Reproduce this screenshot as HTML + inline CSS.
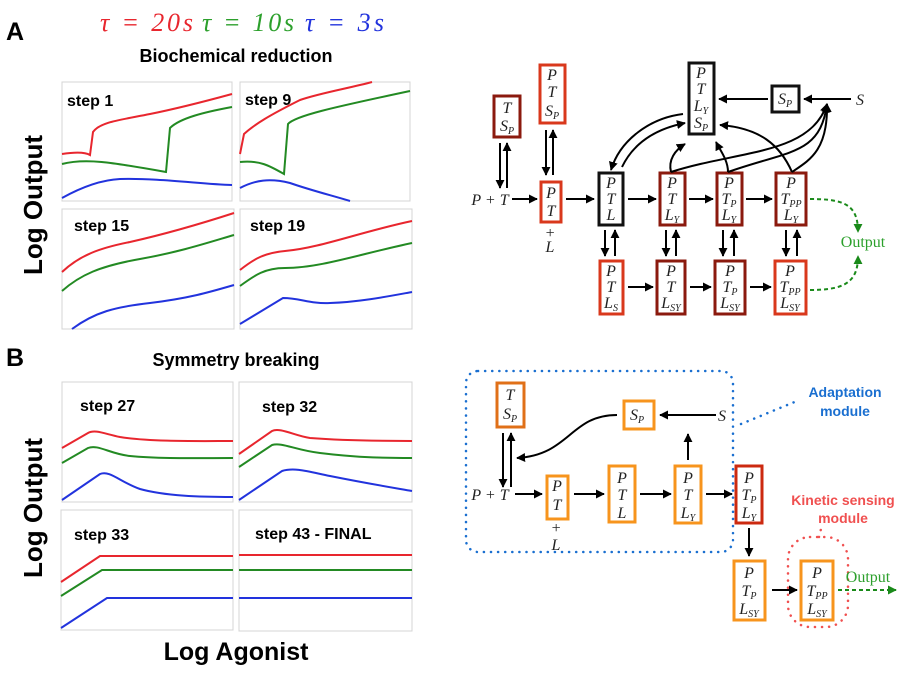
<!DOCTYPE html>
<html><head><meta charset="utf-8"><style>
html,body{margin:0;padding:0;background:#fff;}
svg{display:block;}
.m{font-family:"Liberation Serif",serif;font-style:italic;font-size:16px;fill:#222;}
.s{font-size:10px;}
.st{font-family:"Liberation Sans",sans-serif;font-weight:bold;font-size:16px;fill:#000;}
.ax{stroke:#d4d4d4;stroke-width:1;fill:none;}
.c{fill:none;stroke-width:2;}
.ar{stroke:#000;stroke-width:2;fill:none;marker-end:url(#ah);}
</style></head><body>
<svg width="900" height="675" viewBox="0 0 900 675" xmlns="http://www.w3.org/2000/svg">
<defs>
<marker id="ah" viewBox="0 0 10 10" refX="9" refY="5" markerWidth="4.5" markerHeight="4.5" orient="auto"><path d="M0,0 L10,5 L0,10 z" fill="#000"/></marker>
<marker id="gh" viewBox="0 0 10 10" refX="9" refY="5" markerWidth="4.5" markerHeight="4.5" orient="auto"><path d="M0,0 L10,5 L0,10 z" fill="#1a8a1a"/></marker>
</defs>

<text x="6" y="40" font-family="Liberation Sans" font-weight="bold" font-size="25">A</text>
<text x="6" y="366" font-family="Liberation Sans" font-weight="bold" font-size="25">B</text>
<text y="31" font-family="Liberation Serif" font-style="italic" font-size="26"><tspan x="100" fill="#e8262e" textLength="93">τ = 20s</tspan><tspan x="202" fill="#2ca02c" textLength="92">τ = 10s</tspan><tspan x="305" fill="#2233dd" textLength="79">τ = 3s</tspan></text>
<text x="236" y="62" text-anchor="middle" font-family="Liberation Sans" font-weight="bold" font-size="18">Biochemical reduction</text>
<text x="236" y="366" text-anchor="middle" font-family="Liberation Sans" font-weight="bold" font-size="18">Symmetry breaking</text>
<text x="236" y="660" text-anchor="middle" font-family="Liberation Sans" font-weight="bold" font-size="25">Log Agonist</text>
<text transform="translate(42,205) rotate(-90)" text-anchor="middle" font-family="Liberation Sans" font-weight="bold" font-size="26">Log Output</text>
<text transform="translate(42,508) rotate(-90)" text-anchor="middle" font-family="Liberation Sans" font-weight="bold" font-size="26">Log Output</text>

<rect class="ax" x="62" y="82" width="170" height="119"/>
<rect class="ax" x="240" y="82" width="170" height="119"/>
<rect class="ax" x="62" y="209" width="172" height="120"/>
<rect class="ax" x="240" y="209" width="172" height="120"/>
<rect class="ax" x="62" y="382" width="171" height="120"/>
<rect class="ax" x="239" y="382" width="173" height="120"/>
<rect class="ax" x="61" y="510" width="172" height="120"/>
<rect class="ax" x="239" y="510" width="173" height="121"/>

<text class="st" x="67" y="106">step 1</text>
<text class="st" x="245" y="105">step 9</text>
<text class="st" x="74" y="231">step 15</text>
<text class="st" x="250" y="231">step 19</text>
<text class="st" x="80" y="411">step 27</text>
<text class="st" x="262" y="412">step 32</text>
<text class="st" x="74" y="540">step 33</text>
<text class="st" x="255" y="539">step 43 - FINAL</text>

<g class="c">
<path stroke="#e8262e" d="M62,154 C75,152 85,152 90,155 L93,132 C100,122 120,120 150,114 C180,108 210,100 232,94"/>
<path stroke="#238a23" d="M62,164 C85,158 110,162 166,172 L170,128 C180,118 205,112 232,107"/>
<path stroke="#2233dd" d="M62,198 C80,188 100,180 120,179 C160,178 200,184 232,185"/>
<path stroke="#e8262e" d="M240,154 L244,134 C255,124 270,115 300,100 C320,93 350,88 372,82"/>
<path stroke="#238a23" d="M240,162 C260,160 270,166 284,174 L288,124 C295,116 330,108 410,91"/>
<path stroke="#2233dd" d="M240,188 C255,180 270,178 290,183 C310,190 330,195 350,201"/>
<path stroke="#e8262e" d="M62,272 C80,255 100,248 130,242 C170,233 200,224 234,213"/>
<path stroke="#238a23" d="M62,291 C80,275 100,266 140,259 C180,252 210,242 234,235"/>
<path stroke="#2233dd" d="M72,329 C95,312 115,307 150,303 C190,298 210,292 234,285"/>
<path stroke="#e8262e" d="M240,270 C255,258 265,253 285,251 C320,248 360,232 412,221"/>
<path stroke="#238a23" d="M240,286 C255,275 265,268 285,268 C320,268 360,254 412,243"/>
<path stroke="#2233dd" d="M240,324 L283,298 C300,298 310,304 330,303 C360,302 390,296 412,292"/>
<path stroke="#e8262e" d="M62,448 L88,433 C95,429 105,434 120,437 C150,442 200,441 233,441"/>
<path stroke="#238a23" d="M62,463 L88,448 C98,444 110,454 130,456 C160,459 200,458 233,458"/>
<path stroke="#2233dd" d="M62,500 L100,474 C110,470 120,482 140,489 C165,496 200,497 233,497"/>
<path stroke="#e8262e" d="M239,454 L272,431 C280,427 295,436 310,438 C350,441 390,441 412,441"/>
<path stroke="#238a23" d="M239,467 L272,445 C282,442 295,450 320,453 C360,458 390,458 412,458"/>
<path stroke="#2233dd" d="M239,500 L282,471 C295,467 310,472 330,476 C370,484 395,488 412,491"/>
<path stroke="#e8262e" d="M61,582 L100,556 L233,556"/>
<path stroke="#238a23" d="M61,596 L102,570 L233,570"/>
<path stroke="#2233dd" d="M61,628 L107,598 L233,598"/>
<path stroke="#e8262e" d="M239,555 L412,555"/>
<path stroke="#238a23" d="M239,570 L412,570"/>
<path stroke="#2233dd" d="M239,598 L412,598"/>
</g>

<g fill="#fff" stroke-width="3">
<rect x="494" y="96" width="26" height="41" stroke="#8b1a0e"/>
<rect x="540" y="65" width="25" height="58" stroke="#d9381c"/>
<rect x="689" y="63" width="25" height="71" stroke="#111"/>
<rect x="772" y="86" width="27" height="26" stroke="#111"/>
<rect x="541" y="182" width="20" height="40" stroke="#d9381c"/>
<rect x="599" y="173" width="24" height="52" stroke="#111"/>
<rect x="660" y="173" width="25" height="52" stroke="#8b1a0e"/>
<rect x="717" y="173" width="25" height="52" stroke="#8b1a0e"/>
<rect x="776" y="173" width="30" height="52" stroke="#8b1a0e"/>
<rect x="600" y="261" width="23" height="53" stroke="#d9381c"/>
<rect x="657" y="261" width="28" height="53" stroke="#8b1a0e"/>
<rect x="715" y="261" width="30" height="53" stroke="#8b1a0e"/>
<rect x="775" y="261" width="31" height="53" stroke="#d9381c"/>
</g>
<g class="m" text-anchor="middle">
<text x="507" y="113">T</text><text x="507" y="131">S<tspan class="s" dy="3">P</tspan></text>
<text x="552" y="80">P</text><text x="552" y="97">T</text><text x="552" y="116">S<tspan class="s" dy="3">P</tspan></text>
<text x="701" y="78">P</text><text x="701" y="94">T</text><text x="701" y="111">L<tspan class="s" dy="3">Y</tspan></text><text x="701" y="128">S<tspan class="s" dy="3">P</tspan></text>
<text x="785" y="104">S<tspan class="s" dy="3">P</tspan></text>
<text x="860" y="105">S</text>
<text x="490" y="205">P + T</text>
<text x="551" y="198">P</text><text x="551" y="216">T</text>
<text x="550" y="238">+</text><text x="550" y="252">L</text>
<text x="611" y="188">P</text><text x="611" y="204">T</text><text x="611" y="220">L</text>
<text x="672" y="188">P</text><text x="672" y="204">T</text><text x="672" y="220">L<tspan class="s" dy="3">Y</tspan></text>
<text x="729" y="188">P</text><text x="729" y="204">T<tspan class="s" dy="3">P</tspan></text><text x="729" y="220">L<tspan class="s" dy="3">Y</tspan></text>
<text x="791" y="188">P</text><text x="791" y="204">T<tspan class="s" dy="3">PP</tspan></text><text x="791" y="220">L<tspan class="s" dy="3">Y</tspan></text>
<text x="611" y="276">P</text><text x="611" y="292">T</text><text x="611" y="308">L<tspan class="s" dy="3">S</tspan></text>
<text x="671" y="276">P</text><text x="671" y="292">T</text><text x="671" y="308">L<tspan class="s" dy="3">SY</tspan></text>
<text x="730" y="276">P</text><text x="730" y="292">T<tspan class="s" dy="3">P</tspan></text><text x="730" y="308">L<tspan class="s" dy="3">SY</tspan></text>
<text x="790" y="276">P</text><text x="790" y="292">T<tspan class="s" dy="3">PP</tspan></text><text x="790" y="308">L<tspan class="s" dy="3">SY</tspan></text>
</g>
<text x="863" y="247" text-anchor="middle" font-family="Liberation Serif" font-size="16" fill="#2ca02c">Output</text>
<g>
<path class="ar" d="M500,143 L500,188"/><path class="ar" d="M507,188 L507,143"/>
<path class="ar" d="M546,130 L546,175"/><path class="ar" d="M553,175 L553,130"/>
<path class="ar" d="M512,199 L537,199"/>
<path class="ar" d="M566,199 L594,199"/>
<path class="ar" d="M628,199 L656,199"/>
<path class="ar" d="M689,199 L713,199"/>
<path class="ar" d="M746,199 L772,199"/>
<path class="ar" d="M628,287 L653,287"/>
<path class="ar" d="M690,287 L711,287"/>
<path class="ar" d="M750,287 L771,287"/>
<path class="ar" d="M605,230 L605,256"/><path class="ar" d="M615,256 L615,230"/>
<path class="ar" d="M666,230 L666,256"/><path class="ar" d="M676,256 L676,230"/>
<path class="ar" d="M723,230 L723,256"/><path class="ar" d="M734,256 L734,230"/>
<path class="ar" d="M786,230 L786,256"/><path class="ar" d="M797,256 L797,230"/>
<path class="ar" d="M768,99 L719,99"/>
<path class="ar" d="M851,99 L804,99"/>
<path class="ar" d="M683,114 C650,118 620,140 611,170"/>
<path class="ar" d="M622,167 C635,140 660,128 685,123"/>
<path class="ar" d="M671,172 C668,160 675,150 685,144"/>
<path class="ar" d="M728,172 C728,160 720,150 716,142"/>
<path class="ar" d="M792,172 C780,145 760,128 720,125"/>
<path class="ar" d="M671,172 C740,150 810,155 827,104"/>
<path class="ar" d="M728,172 C790,150 820,155 827,104"/>
<path class="ar" d="M792,172 C810,160 828,150 827,104"/>
<path d="M810,199 C845,199 858,205 858,232" stroke="#1a8a1a" stroke-width="2" stroke-dasharray="4,3" fill="none" marker-end="url(#gh)"/>
<path d="M810,290 C845,290 858,282 858,256" stroke="#1a8a1a" stroke-width="2" stroke-dasharray="4,3" fill="none" marker-end="url(#gh)"/>
</g>

<rect x="466" y="371" width="267" height="181" rx="12" fill="none" stroke="#1a6fd0" stroke-width="2.5" stroke-dasharray="0.1,7" stroke-linecap="round"/>
<path d="M741,424 L797,401" stroke="#1a6fd0" stroke-width="2.5" stroke-dasharray="0.1,7" stroke-linecap="round"/>
<rect x="788" y="537" width="60" height="90" rx="22" fill="none" stroke="#f05050" stroke-width="2.5" stroke-dasharray="0.1,7" stroke-linecap="round"/>
<path d="M819,537 L822,525" stroke="#f05050" stroke-width="2.5" stroke-dasharray="0.1,7" stroke-linecap="round"/>
<text x="845" y="397" text-anchor="middle" font-family="Liberation Sans" font-weight="bold" font-size="14" fill="#1a6fd0">Adaptation</text>
<text x="845" y="416" text-anchor="middle" font-family="Liberation Sans" font-weight="bold" font-size="14" fill="#1a6fd0">module</text>
<text x="843" y="505" text-anchor="middle" font-family="Liberation Sans" font-weight="bold" font-size="14" fill="#f05050">Kinetic sensing</text>
<text x="843" y="523" text-anchor="middle" font-family="Liberation Sans" font-weight="bold" font-size="14" fill="#f05050">module</text>
<g fill="#fff" stroke-width="3">
<rect x="497" y="383" width="27" height="44" stroke="#e07018"/>
<rect x="624" y="401" width="30" height="28" stroke="#f7941d"/>
<rect x="547" y="476" width="21" height="43" stroke="#f7941d"/>
<rect x="609" y="466" width="26" height="56" stroke="#f7941d"/>
<rect x="675" y="466" width="26" height="57" stroke="#f7941d"/>
<rect x="736" y="466" width="26" height="57" stroke="#cc2a10"/>
<rect x="734" y="561" width="31" height="59" stroke="#f7941d"/>
<rect x="801" y="561" width="32" height="59" stroke="#f7941d"/>
</g>
<g class="m" text-anchor="middle">
<text x="510" y="400">T</text><text x="510" y="419">S<tspan class="s" dy="3">P</tspan></text>
<text x="637" y="420">S<tspan class="s" dy="3">P</tspan></text>
<text x="722" y="421">S</text>
<text x="490" y="500">P + T</text>
<text x="557" y="491">P</text><text x="557" y="510">T</text>
<text x="556" y="533">+</text><text x="556" y="550">L</text>
<text x="622" y="483">P</text><text x="622" y="500">T</text><text x="622" y="518">L</text>
<text x="688" y="483">P</text><text x="688" y="500">T</text><text x="688" y="518">L<tspan class="s" dy="3">Y</tspan></text>
<text x="749" y="483">P</text><text x="749" y="500">T<tspan class="s" dy="3">P</tspan></text><text x="749" y="518">L<tspan class="s" dy="3">Y</tspan></text>
<text x="749" y="578">P</text><text x="749" y="596">T<tspan class="s" dy="3">P</tspan></text><text x="749" y="614">L<tspan class="s" dy="3">SY</tspan></text>
<text x="817" y="578">P</text><text x="817" y="596">T<tspan class="s" dy="3">PP</tspan></text><text x="817" y="614">L<tspan class="s" dy="3">SY</tspan></text>
</g>
<text x="868" y="582" text-anchor="middle" font-family="Liberation Serif" font-size="16" fill="#2ca02c">Output</text>
<g>
<path class="ar" d="M503,433 L503,487"/><path class="ar" d="M511,487 L511,433"/>
<path class="ar" d="M617,415 C570,415 570,455 517,458"/>
<path class="ar" d="M716,415 L660,415"/>
<path class="ar" d="M688,460 L688,434"/>
<path class="ar" d="M515,494 L542,494"/>
<path class="ar" d="M574,494 L604,494"/>
<path class="ar" d="M640,494 L671,494"/>
<path class="ar" d="M706,494 L732,494"/>
<path class="ar" d="M749,528 L749,556"/>
<path class="ar" d="M772,590 L797,590"/>
<path d="M838,590 L896,590" stroke="#1a8a1a" stroke-width="2" stroke-dasharray="4,3" fill="none" marker-end="url(#gh)"/>
</g>
</svg>
</body></html>
